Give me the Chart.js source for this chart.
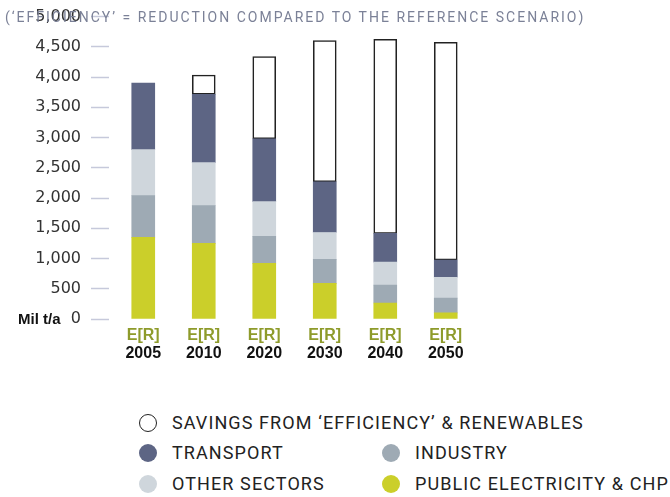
<!DOCTYPE html>
<html>
<head>
<meta charset="utf-8">
<script src="https://cdn.jsdelivr.net/npm/chart.js@4/dist/chart.umd.min.js"></script>
<style>
  html, body { margin: 0; padding: 0; background: #fff; }
  #wrap { position: relative; width: 670px; height: 497px; overflow: hidden; }
  #cv { position: absolute; left: 0; top: -3px; }
  #title { position: absolute; left: 5px; top: 9px; font-family: Roboto, sans-serif; font-size: 14px; letter-spacing: 2.0px; color: #7b8197; white-space: nowrap; }
  .lg { position: absolute; font-family: Roboto, sans-serif; font-size: 18px; letter-spacing: 1.1px; color: #222; white-space: nowrap; line-height: 20px; }
  .dot { position: absolute; width: 18px; height: 18px; border-radius: 50%; box-sizing: border-box; }
</style>
</head>
<body>
<div id="wrap">
  <canvas id="cv" width="670" height="380"></canvas>
  <div id="title">(‘EFFICIENCY’ = REDUCTION COMPARED TO THE REFERENCE SCENARIO)</div>
  <div id="legend"></div>
</div>
<script>
const categories = ["2005", "2010", "2020", "2030", "2040", "2050"];
const scenarioLabels = ["E[R]", "E[R]", "E[R]", "E[R]", "E[R]", "E[R]"];
const publicElectricity = [1350, 1250, 920, 590, 265, 100];
const industry = [690, 625, 445, 395, 295, 245];
const otherSectors = [760, 710, 575, 445, 380, 345];
const transport = [1100, 1130, 1040, 840, 475, 285];
const savings = [null, 320, 1360, 2335, 3210, 3600];
const yTicks = [0, 500, 1000, 1500, 2000, 2500, 3000, 3500, 4000, 4500, 5000];

const COLORS = {
  elec: '#cbcf2a',
  industry: '#9eaab4',
  other: '#cfd6dc',
  transport: '#5d6584',
  savings: '#ffffff'
};

const legendItems = [
  { text: "SAVINGS FROM ‘EFFICIENCY’ & RENEWABLES", color: '#fff', border: '#222', x: 148, y: 423 },
  { text: "TRANSPORT", color: COLORS.transport, x: 148, y: 453 },
  { text: "INDUSTRY", color: COLORS.industry, x: 391, y: 453 },
  { text: "OTHER SECTORS", color: COLORS.other, x: 148, y: 484 },
  { text: "PUBLIC ELECTRICITY & CHP", color: COLORS.elec, x: 391, y: 484 }
];
const lg = document.getElementById('legend');
legendItems.forEach(it => {
  const d = document.createElement('div');
  d.className = 'dot';
  d.style.left = (it.x - 9) + 'px';
  d.style.top = (it.y - 9) + 'px';
  d.style.background = it.color;
  if (it.border) d.style.border = '1.5px solid ' + it.border;
  lg.appendChild(d);
  const t = document.createElement('div');
  t.className = 'lg';
  t.textContent = it.text;
  t.style.left = (it.x + 24) + 'px';
  t.style.top = (it.y - 10) + 'px';
  lg.appendChild(t);
});

const milPlugin = {
  id: 'milLabel',
  afterDraw(chart) {
    const y = chart.scales.y.getPixelForValue(0);
    const ctx = chart.ctx;
    ctx.save();
    ctx.font = 'bold 15px "Liberation Sans", Arial, sans-serif';
    ctx.fillStyle = '#111';
    ctx.textAlign = 'left';
    ctx.textBaseline = 'middle';
    ctx.fillText('Mil t/a', 18, y + 1);
    ctx.restore();
  }
};

new Chart(document.getElementById('cv'), {
  type: 'bar',
  data: {
    labels: categories,
    datasets: [
      { label: 'PUBLIC ELECTRICITY & CHP', data: publicElectricity, backgroundColor: COLORS.elec, borderWidth: 0 },
      { label: 'INDUSTRY', data: industry, backgroundColor: COLORS.industry, borderWidth: 0 },
      { label: 'OTHER SECTORS', data: otherSectors, backgroundColor: COLORS.other, borderWidth: 0 },
      { label: 'TRANSPORT', data: transport, backgroundColor: COLORS.transport, borderWidth: 0 },
      { label: 'SAVINGS FROM ‘EFFICIENCY’ & RENEWABLES', data: savings, backgroundColor: COLORS.savings, borderColor: '#222', borderWidth: 1.6, borderSkipped: false }
    ]
  },
  options: {
    responsive: false,
    animation: false,
    events: [],
    barThickness: 23,
    layout: { padding: { left: 0, right: 194, top: 13, bottom: 8 } },
    plugins: { legend: { display: false }, tooltip: { enabled: false }, title: { display: false } },
    scales: {
      x: {
        stacked: true,
        position: 'bottom',
        weight: 0,
        grid: { display: false, drawTicks: false },
        border: { display: false },
        afterFit: (s) => { s.height = 27; },
        ticks: {
          padding: 7,
          autoSkip: false,
          maxRotation: 0,
          color: '#8e9b2b',
          font: { family: '"Liberation Sans", Arial, sans-serif', size: 16, weight: 'bold' },
          callback: (v, i) => scenarioLabels[i]
        }
      },
      x2: {
        type: 'category',
        labels: categories,
        position: 'bottom',
        weight: 1,
        offset: true,
        grid: { display: false, drawTicks: false },
        border: { display: false },
        afterFit: (s) => { s.height = 23; },
        ticks: {
          padding: -2,
          autoSkip: false,
          maxRotation: 0,
          color: '#111',
          font: { family: '"Liberation Sans", Arial, sans-serif', size: 16, weight: 'bold' }
        }
      },
      y: {
        stacked: true,
        min: 0,
        max: 5000,
        afterBuildTicks: (s) => { s.ticks = yTicks.map(v => ({ value: v })); },
        afterFit: (s) => { s.width = 113; },
        border: { display: false },
        grid: {
          drawOnChartArea: false,
          drawTicks: true,
          tickLength: 22,
          tickColor: '#c6c9db',
          tickWidth: 1.5,
          tickBorderDash: [18, 10]
        },
        ticks: {
          padding: 10,
          color: '#333',
          font: { family: '"DejaVu Sans", sans-serif', size: 16 },
          callback: (v) => v.toLocaleString('en-US')
        }
      }
    }
  },
  plugins: [milPlugin]
});
</script>
</body>
</html>
